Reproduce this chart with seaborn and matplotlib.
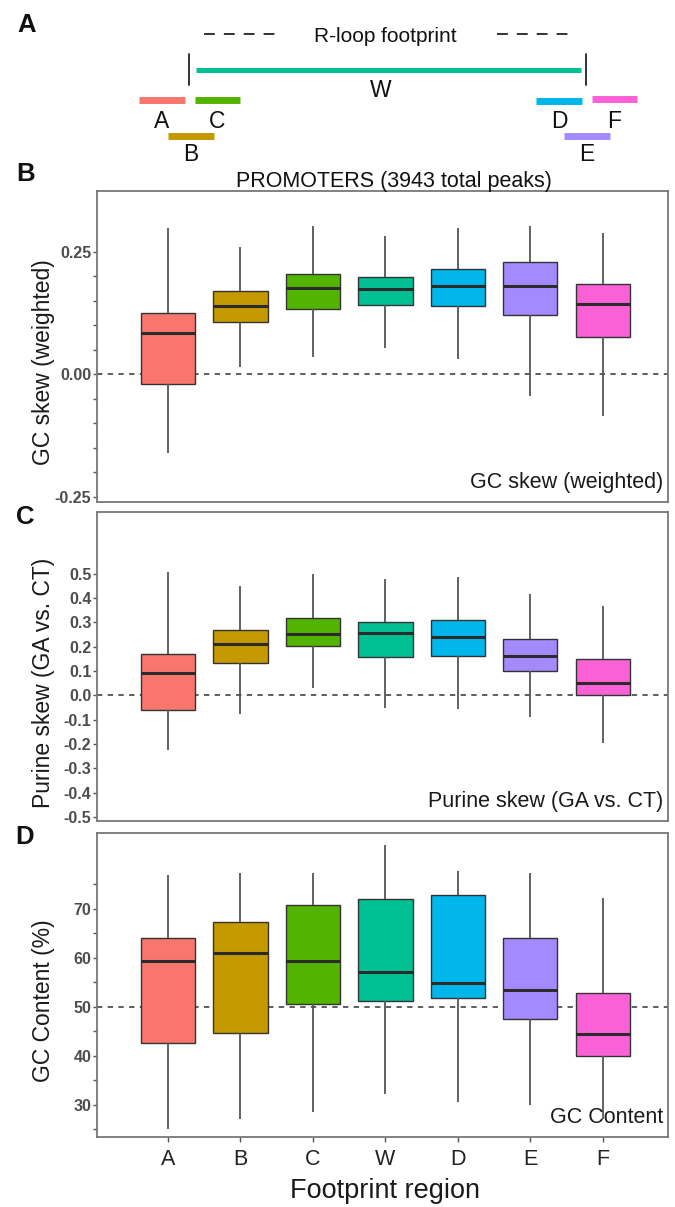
import numpy as np
import pandas as pd
import seaborn as sns
import matplotlib
matplotlib.use("Agg")
import matplotlib.pyplot as plt

# Footprint regions and their (ggplot hue) colours
REGIONS = ["A", "B", "C", "W", "D", "E", "F"]
COLORS = ["#F8766D", "#C49A00", "#53B400", "#00C094", "#00B6EB", "#A58AFF", "#FB61D7"]

# B: GC skew (weighted) - whisker low, Q1, median, Q3, whisker high
GC_SKEW_LOW = [-0.160, 0.015, 0.035, 0.054, 0.030, -0.045, -0.085]
GC_SKEW_Q1 = [-0.020, 0.107, 0.134, 0.141, 0.139, 0.120, 0.075]
GC_SKEW_MED = [0.084, 0.139, 0.175, 0.173, 0.180, 0.180, 0.144]
GC_SKEW_Q3 = [0.124, 0.169, 0.204, 0.198, 0.214, 0.229, 0.184]
GC_SKEW_HIGH = [0.298, 0.259, 0.303, 0.282, 0.298, 0.303, 0.288]

# C: Purine skew (GA vs. CT)
PURINE_LOW = [-0.226, -0.075, 0.031, -0.051, -0.058, -0.089, -0.196]
PURINE_Q1 = [-0.060, 0.131, 0.201, 0.159, 0.162, 0.100, 0.003]
PURINE_MED = [0.090, 0.211, 0.252, 0.256, 0.241, 0.162, 0.052]
PURINE_Q3 = [0.170, 0.270, 0.319, 0.300, 0.311, 0.230, 0.148]
PURINE_HIGH = [0.507, 0.448, 0.497, 0.477, 0.488, 0.418, 0.369]

# D: GC content (%)
GC_CONT_LOW = [25.1, 27.0, 28.5, 32.1, 30.6, 30.0, 27.0]
GC_CONT_Q1 = [42.5, 44.6, 50.5, 51.2, 51.7, 47.5, 39.9]
GC_CONT_MED = [59.4, 61.0, 59.4, 57.2, 54.9, 53.4, 44.5]
GC_CONT_Q3 = [64.0, 67.4, 70.8, 72.1, 72.8, 64.0, 52.9]
GC_CONT_HIGH = [76.9, 77.4, 77.4, 83.1, 77.8, 77.3, 72.3]

# tick values / labels
GC_SKEW_TICKS = [-0.25, -0.2, -0.15, -0.1, -0.05, 0.0, 0.05, 0.1, 0.15, 0.2, 0.25]
GC_SKEW_LABELS = ["-0.25", "", "", "", "", "0.00", "", "", "", "", "0.25"]
PURINE_TICKS = [-0.5, -0.4, -0.3, -0.2, -0.1, 0.0, 0.1, 0.2, 0.3, 0.4, 0.5]
PURINE_LABELS = ["-0.5", "-0.4", "-0.3", "-0.2", "-0.1", "0.0", "0.1", "0.2", "0.3", "0.4", "0.5"]
GC_CONT_TICKS = [25, 30, 35, 40, 45, 50, 55, 60, 65, 70, 75]
GC_CONT_LABELS = ["", "30", "", "40", "", "50", "", "60", "", "70", ""]

W, H = 675, 1207

sns.set_style("white")
plt.rcParams["font.family"] = ["Liberation Sans", "DejaVu Sans"]

fig = plt.figure(figsize=(W / 100, H / 100), dpi=100)


def ftext(x, y, s, **kw):
    """text placed in figure pixels (y from top)"""
    fig.text(x / W, 1 - y / H, s, **kw)


def px_axes(left, top, right, bottom):
    return fig.add_axes([left / W, 1 - bottom / H, (right - left) / W, (bottom - top) / H])


def summary_frame(low, q1, med, q3, high):
    # five values per region reproduce the box (linear percentiles) and whiskers (min/max)
    rows = []
    for i, r in enumerate(REGIONS):
        for v in (low[i], q1[i], med[i], q3[i], high[i]):
            rows.append({"region": r, "value": v})
    return pd.DataFrame(rows)


def draw_panel(ax, df, ylim, ticks, labels, ref, ylabel, corner, show_x):
    ax.axhline(ref, color="#333333", lw=1.1, ls=(0, (3.5, 3.5)), zorder=0.5)
    sns.boxplot(data=df, x="region", y="value", hue="region", order=REGIONS,
                hue_order=REGIONS, palette=COLORS, saturation=1, width=0.75,
                whis=(0, 100), showcaps=False, linecolor="#333333", linewidth=1.0,
                medianprops=dict(color="#2b2b2b", linewidth=2.2),
                whiskerprops=dict(color="#555555", linewidth=1.3),
                legend=False, ax=ax)
    ax.set_xlim(-0.98, 6.9)
    ax.set_ylim(*ylim)
    ax.set_yticks(ticks)
    ax.set_yticklabels(labels, fontweight="bold")
    ax.tick_params(axis="y", left=True, length=3, width=1, color="#555555", pad=1,
                   labelsize=11.5, labelcolor="#4d4d4d")
    if show_x:
        ax.tick_params(axis="x", bottom=True, length=3.5, width=1, color="#555555", pad=5,
                       labelsize=15.5, labelcolor="#222222")
    else:
        ax.tick_params(axis="x", bottom=False, labelbottom=False)
    ax.set_xlabel("")
    ax.set_ylabel(ylabel, fontsize=16.5, color="#1a1a1a")
    hpx = ax.get_position().height * H
    ax.yaxis.set_label_coords(-0.0736, 0.5 - 16 / hpx)
    for s in ax.spines.values():
        s.set_visible(True)
        s.set_color("#777777")
        s.set_linewidth(1.3)
    ax.text(0.992, 0.063, corner, transform=ax.transAxes, ha="right", va="center",
            fontsize=15.5, color="#1a1a1a")


# ---- panel A: schematic of footprint regions ----
ax0 = fig.add_axes([0, 1 - 160 / H, 1, 160 / H])
ax0.set_xlim(0, W)
ax0.set_ylim(160, 0)
ax0.axis("off")

# region: (x start, x end, bar y, label baseline)
SCHEMATIC = {
    "A": (139, 185, 100, 128),
    "C": (195, 240, 100, 128),
    "B": (168, 214, 136, 161),
    "D": (536, 582, 101, 128),
    "F": (592, 637, 99, 128),
    "E": (564, 610, 136, 161),
}
cmap = dict(zip(REGIONS, COLORS))
ax0.plot([196, 581], [69.5, 69.5], color=cmap["W"], lw=3.6, solid_capstyle="butt")
ax0.text(381, 97, "W", ha="center", va="baseline", fontsize=16.5, color="#111111")
for xb in (188.5, 586):
    ax0.plot([xb, xb], [54, 85], color="#222222", lw=1.3)
for r, (x0, x1, yb, yl) in SCHEMATIC.items():
    ax0.plot([x0, x1], [yb, yb], color=cmap[r], lw=5, solid_capstyle="butt")
    ax0.text((x0 + x1) / 2, yl, r, ha="center", va="baseline", fontsize=16.5, color="#111111")
for xs in ((204, 282), (497, 575)):
    ax0.plot(xs, [34, 34], color="#222222", lw=1.3, ls=(0, (6, 5)))
ax0.text(385, 42, "R-loop footprint", ha="center", va="baseline", fontsize=15, color="#111111")

# ---- panels B, C, D ----
axB = px_axes(97, 191, 668, 502)
draw_panel(axB, summary_frame(GC_SKEW_LOW, GC_SKEW_Q1, GC_SKEW_MED, GC_SKEW_Q3, GC_SKEW_HIGH),
           (-0.261, 0.374), GC_SKEW_TICKS, GC_SKEW_LABELS, 0.0,
           "GC skew (weighted)", "GC skew (weighted)", False)

axC = px_axes(97, 512, 668, 821)
draw_panel(axC, summary_frame(PURINE_LOW, PURINE_Q1, PURINE_MED, PURINE_Q3, PURINE_HIGH),
           (-0.516, 0.753), PURINE_TICKS, PURINE_LABELS, 0.0,
           "Purine skew (GA vs. CT)", "Purine skew (GA vs. CT)", False)

axD = px_axes(97, 833, 668, 1137)
draw_panel(axD, summary_frame(GC_CONT_LOW, GC_CONT_Q1, GC_CONT_MED, GC_CONT_Q3, GC_CONT_HIGH),
           (23.4, 85.5), GC_CONT_TICKS, GC_CONT_LABELS, 50,
           "GC Content (%)", "GC Content", True)
axD.set_xlabel("Footprint region", fontsize=19.5, color="#1a1a1a")
axD.xaxis.set_label_coords(0.504, -0.135)

# panel letters and title
for letter, (x, y) in {"A": (27, 25), "B": (26, 174), "C": (25, 517), "D": (25, 837)}.items():
    ftext(x, y, letter, ha="center", va="center", fontsize=18.5, fontweight="bold", color="#111111")
ftext(394, 181, "PROMOTERS (3943 total peaks)", ha="center", va="center", fontsize=15.5, color="#111111")

fig.savefig("out.png", dpi=100)
